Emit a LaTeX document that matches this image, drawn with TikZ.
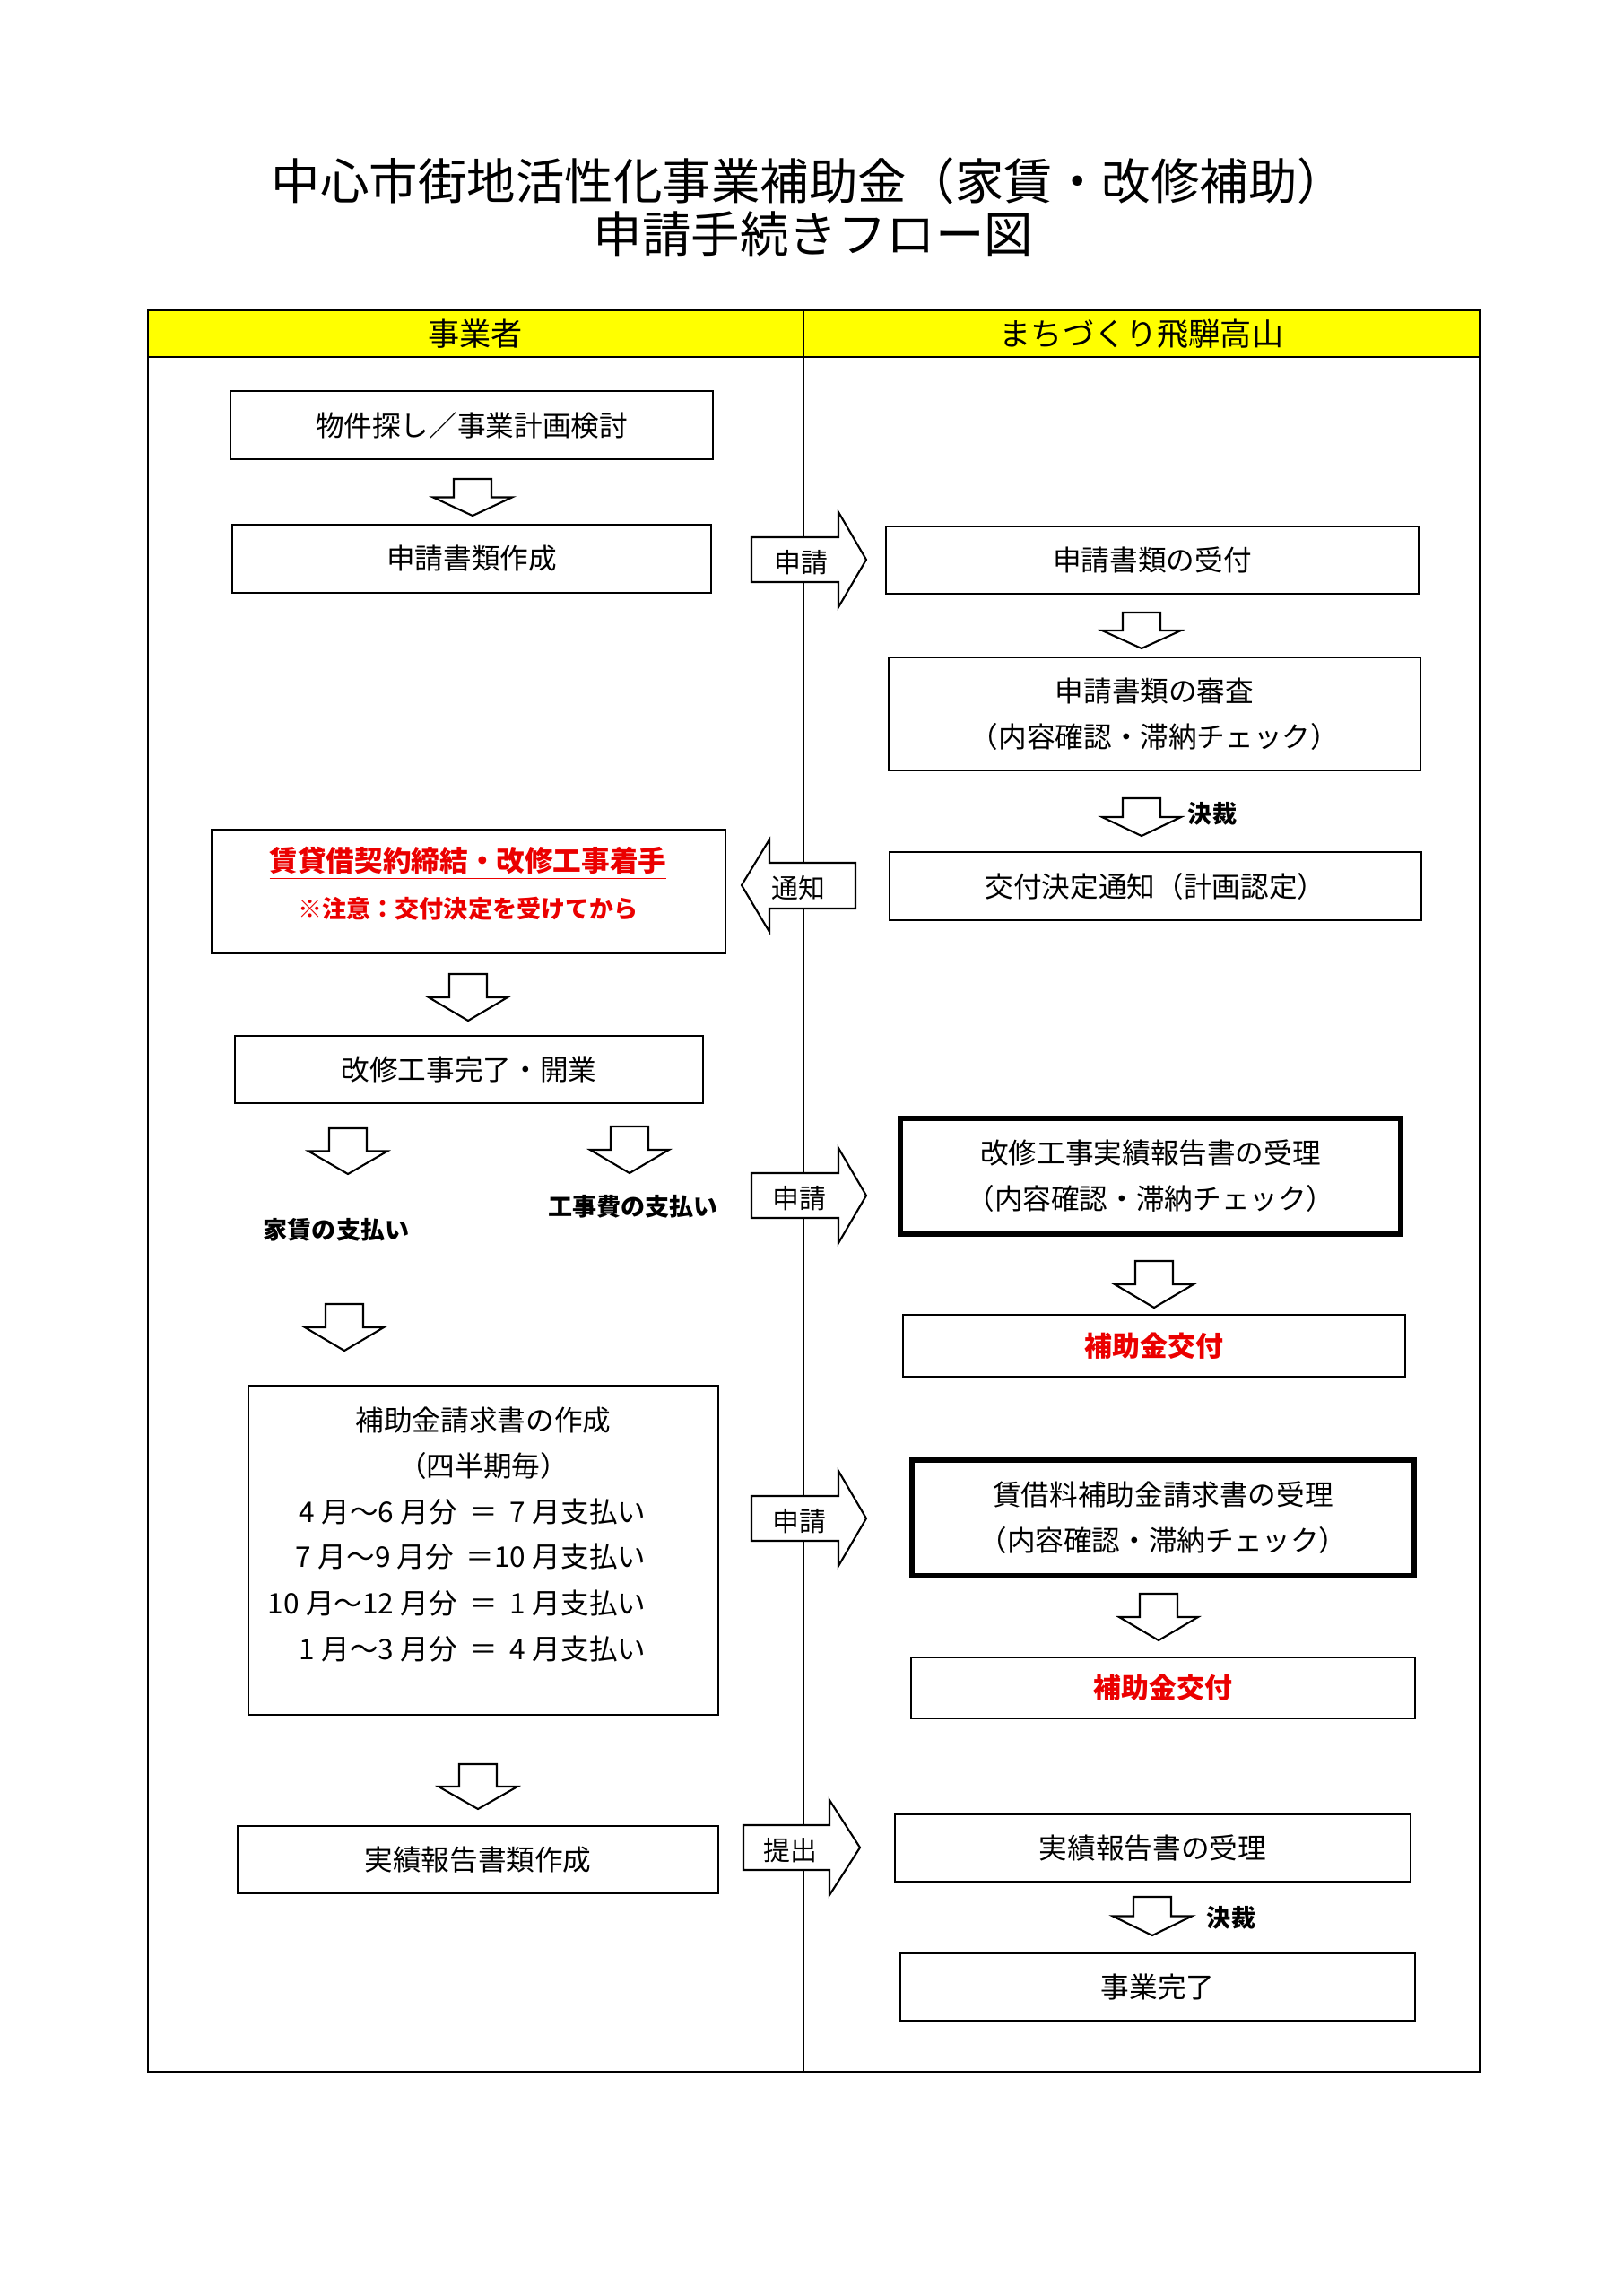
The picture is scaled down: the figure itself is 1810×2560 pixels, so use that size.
\documentclass[tikz,border=0pt]{standalone}
\usepackage{fontspec}
\setmainfont{Noto Sans CJK JP}
\usetikzlibrary{fit}
\definecolor{hdr}{RGB}{255,255,0}
\definecolor{jred}{RGB}{235,0,0}
\newcommand\dnarrow[3]{%
  \pgfmathsetmacro\ymidv{(#2+#3)/2}%
  \draw[blk] ({#1-21},#2) -- ({#1+21},#2) -- ({#1+21},\ymidv) -- ({#1+44},\ymidv) -- (#1,#3) -- ({#1-44},\ymidv) -- ({#1-21},\ymidv) -- cycle;}
% right arrow: xleft, xbase, xtip, ycenter
\newcommand\rtarrow[4]{%
  \draw[blk] (#1,{#4-25}) -- (#2,{#4-25}) -- (#2,{#4-53}) -- (#3,#4) -- (#2,{#4+53}) -- (#2,{#4+25}) -- (#1,{#4+25}) -- cycle;}
\newcommand\tg{\hspace{0.23em}}
\newcommand\wg{\hspace{0.43em}}
\begin{document}
\begin{tikzpicture}[x=0.1mm,y=-0.1mm,
  box/.style={draw, line width=0.6pt, inner sep=0pt},
  tbox/.style={draw, line width=1.7pt, inner sep=0pt},
  txt/.style={font=\fontsize{9}{14.5}\selectfont, align=center, inner sep=0pt},
  atxt/.style={font=\fontsize{8.5}{10}\selectfont, inner sep=0pt},
  lbl/.style={font=\fontsize{7.7}{9}\selectfont\bfseries, inner sep=0pt},
  hdrtxt/.style={font=\fontsize{10}{12}\selectfont, inner sep=0pt},
  blk/.style={draw, line width=0.6pt, fill=white, line join=miter},
  tbl/.style={draw, line width=0.45pt}]
\useasboundingbox[fill=white] (0,0) rectangle (1810,2560);

% title
\node[font=\fontsize{15.5}{18}\selectfont, inner sep=0pt] (title1) at (902,202) {中心市街地活性化事業補助金（家賃・改修補助）};
\node[font=\fontsize{15.5}{18}\selectfont, inner sep=0pt] (title2) at (907,261) {申請手続きフロー図};

% table
\fill[hdr] (165,346) rectangle (1650,398);
\draw[tbl] (165,346) rectangle (1650,2310);
\draw[tbl] (165,398) -- (1650,398);
\draw[tbl] (896,346) -- (896,2310);
\node[hdrtxt] (h1) at (530,372) {事業者};
\node[hdrtxt] (h2) at (1273,372) {まちづくり飛騨高山};

% boxes
\node[box, fit={(257,436) (795,512)}] (b1) {};
\node[box, fit={(259,585) (793,661)}] (b2) {};
\node[box, fit={(988,587) (1582,662)}] (b3) {};
\node[box, fit={(991,733) (1584,859)}] (b4) {};
\node[box, fit={(992,950) (1585,1026)}] (b5) {};
\node[box, fit={(236,925) (809,1063)}] (b6) {};
\node[box, fit={(262,1155) (784,1230)}] (b7) {};
\node[tbox, fit={(1004,1247) (1562,1376)}] (b8) {};
\node[box, fit={(1007,1466) (1567,1535)}] (b9) {};
\node[box, fit={(277,1545) (801,1912)}] (b10) {};
\node[tbox, fit={(1017,1628) (1577,1757)}] (b11) {};
\node[box, fit={(1016,1848) (1578,1916)}] (b12) {};
\node[box, fit={(265,2036) (801,2111)}] (b13) {};
\node[box, fit={(998,2023) (1573,2098)}] (b14) {};
\node[box, fit={(1004,2178) (1578,2253)}] (b15) {};

% box texts
\node[txt] (t1) at (b1.center) {物件探し／事業計画検討};
\node[txt] (t2) at (b2.center) {申請書類作成};
\node[txt] (t3) at (b3.center) {申請書類の受付};
\node[txt] (t4) at (b4.center) {申請書類の審査\\（内容確認・滞納チェック）};
\node[txt] (t5) at (b5.center) {交付決定通知（計画認定）};
\node[txt, font=\fontsize{9}{9}\selectfont\bfseries, text=jred] (t6a) at (522,963) {\underline{賃貸借契約締結・改修工事着手}};
\node[txt, font=\fontsize{7.7}{9}\selectfont\bfseries, text=jred] (t6b) at (522,1013) {※注意：交付決定を受けてから};
\node[txt] (t7) at (b7.center) {改修工事完了・開業};
\node[txt] (t8) at (b8.center) {改修工事実績報告書の受理\\（内容確認・滞納チェック）};
\node[txt, font=\fontsize{8.8}{10}\selectfont\bfseries, text=jred] (t9) at (b9.center) {補助金交付};
\node[txt] (t10a) at (539,1584) {補助金請求書の作成};
\node[txt] (t10b) at (539,1634) {（四半期毎）};
\node[txt, anchor=east] (t10c) at (721,1686) {4\tg 月～6\tg 月分\wg ＝\wg 7\tg 月支払い};
\node[txt, anchor=east] (t10d) at (721,1736) {7\tg 月～9\tg 月分\wg ＝10\tg 月支払い};
\node[txt, anchor=east] (t10e) at (721,1788) {10\tg 月～12\tg 月分\wg ＝\wg 1\tg 月支払い};
\node[txt, anchor=east] (t10f) at (721,1839) {1\tg 月～3\tg 月分\wg ＝\wg 4\tg 月支払い};
\node[txt] (t11) at (b11.center) {賃借料補助金請求書の受理\\（内容確認・滞納チェック）};
\node[txt, font=\fontsize{8.8}{10}\selectfont\bfseries, text=jred] (t12) at (b12.center) {補助金交付};
\node[txt] (t13) at (b13.center) {実績報告書類作成};
\node[txt] (t14) at (b14.center) {実績報告書の受理};
\node[txt] (t15) at (b15.center) {事業完了};

% down arrows
\dnarrow{527}{534}{575}
\dnarrow{1273}{683}{723}
\dnarrow{1273}{890}{932}
\dnarrow{522}{1086}{1138}
\dnarrow{388}{1258}{1309}
\dnarrow{702}{1256}{1308}
\dnarrow{1287}{1406}{1458}
\dnarrow{384}{1454}{1506}
\dnarrow{1292}{1777}{1829}
\dnarrow{533}{1967}{2017}
\dnarrow{1285}{2115}{2158}

% labels
\node[lbl] (k1) at (1352,907) {決裁};
\node[lbl] (k2) at (1373,2138) {決裁};
\node[lbl] (p1) at (375,1371) {家賃の支払い};
\node[lbl] (p2) at (706,1345) {工事費の支払い};

% horizontal block arrows
\rtarrow{838}{935}{966}{624}
\node[atxt] (a1) at (893,627) {申請};
\draw[blk] (954,962) -- (858,962) -- (858,936) -- (827,987) -- (858,1039) -- (858,1013) -- (954,1013) -- cycle;
\node[atxt] (a2) at (890,990) {通知};
\rtarrow{838}{935}{966}{1333}
\node[atxt] (a3) at (891,1336) {申請};
\rtarrow{838}{935}{966}{1693}
\node[atxt] (a4) at (891,1696) {申請};
\rtarrow{829}{925}{959}{2060}
\node[atxt] (a5) at (881,2063) {提出};
\end{tikzpicture}
\end{document}
